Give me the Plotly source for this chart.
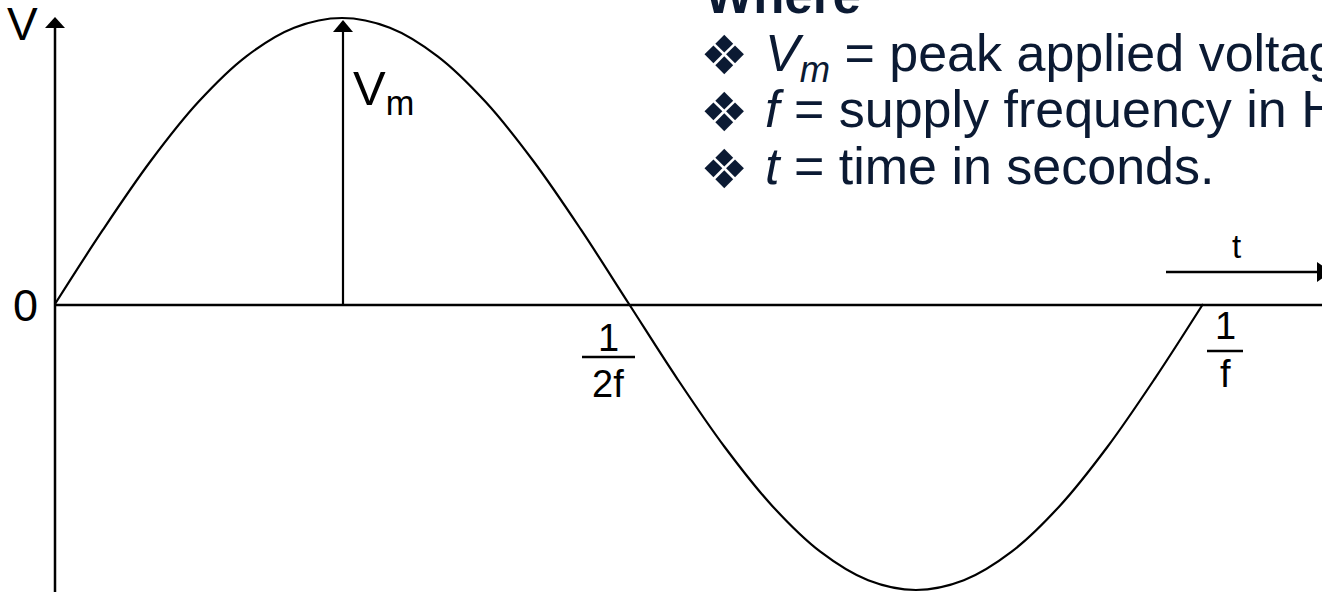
import plotly.graph_objects as go

# ---- data (one period of the waveform) ----
t_period = [i / 24 for i in range(25)]          # time as fraction of 1/f
v_norm = [0.0, 0.259, 0.5, 0.707, 0.866, 0.966, 1.0, 0.966, 0.866, 0.707, 0.5, 0.259,
          0.0, -0.259, -0.5, -0.707, -0.866, -0.966, -1.0, -0.966, -0.866, -0.707, -0.5, -0.259, 0.0]
tick_num = ["1", "1"]
tick_den = ["2f", "f"]
bullet_lines = [
    "<i>V<sub>m</sub></i> = peak applied voltage",
    "<i>f</i> = supply frequency in Hz",
    "<i>t</i> = time in seconds.",
]

W, H = 1322, 592
X0, PER = 55, 1148       # pixel of t=0, pixels per period
Y0, AMP = 304, 286       # pixel of v=0, pixels per unit

def px(x):
    return x / W

def py(y):
    return 1 - y / H

x_range = [-X0 / PER, (W - X0) / PER]
y_range = [-(H - Y0) / AMP, Y0 / AMP]

fig = go.Figure()
fig.add_trace(go.Scatter(x=t_period, y=v_norm, mode="lines", line=dict(color="black", width=2.2, shape="spline"),
                         hoverinfo="skip", showlegend=False))

LBL = "Liberation Sans Narrow, Arial Narrow, Arial, sans-serif"
TXT = "Arial, Liberation Sans, sans-serif"
NAVY = "#0b1a33"

shapes = [
    dict(type="line", xref="paper", yref="paper", x0=px(55), x1=px(55), y0=py(26), y1=py(592),
         line=dict(color="black", width=2.5)),
    dict(type="path", xref="paper", yref="paper", xsizemode="pixel", ysizemode="pixel",
         xanchor=px(55), yanchor=py(28), path="M -10,0 L 10,0 L 0,11 Z", fillcolor="black", line=dict(width=0)),
    dict(type="line", xref="paper", yref="paper", x0=px(55), x1=1.0, y0=py(305), y1=py(305),
         line=dict(color="black", width=2.5)),
    dict(type="line", xref="paper", yref="paper", x0=px(343), x1=px(343), y0=py(305), y1=py(30),
         line=dict(color="black", width=2.2)),
    dict(type="path", xref="paper", yref="paper", xsizemode="pixel", ysizemode="pixel",
         xanchor=px(343), yanchor=py(32), path="M -10,0 L 10,0 L 0,12 Z", fillcolor="black", line=dict(width=0)),
    dict(type="line", xref="paper", yref="paper", x0=px(1166), x1=1.0, y0=py(272), y1=py(272),
         line=dict(color="black", width=2.5)),
    dict(type="path", xref="paper", yref="paper", xsizemode="pixel", ysizemode="pixel",
         xanchor=px(1317), yanchor=py(272), path="M 0,-10 L 0,10 L 14,0 Z", fillcolor="black", line=dict(width=0)),
]

annotations = [
    dict(text="V", x=px(22), y=py(24.5), font=dict(family=LBL, size=46, color="black")),
    dict(text="0", x=px(25.5), y=py(305), font=dict(family=LBL, size=45, color="black")),
    dict(text="V<sub>m</sub>", x=px(351), y=py(92), xanchor="left", font=dict(family=TXT, size=49, color="black")),
    dict(text="t", x=px(1236), y=py(246), font=dict(family=LBL, size=33, color="black")),
]

frac_pos = [(608, 582, 635, 338, 357, 384), (1225, 1207, 1243, 326, 351, 374)]
for (cx, b0, b1, ny, by, dy), num, den in zip(frac_pos, tick_num, tick_den):
    annotations.append(dict(text=num, x=px(cx), y=py(ny), font=dict(family=LBL, size=38, color="black")))
    annotations.append(dict(text=den, x=px(cx), y=py(dy), font=dict(family=LBL, size=38, color="black")))
    shapes.append(dict(type="line", xref="paper", yref="paper", x0=px(b0), x1=px(b1), y0=py(by), y1=py(by),
                       line=dict(color="black", width=2.5)))

annotations.append(dict(text="<b>Where</b>", x=px(703), y=py(-4), xanchor="left",
                        font=dict(family=TXT, size=51, color=NAVY)))
for line_txt, yc, yb in zip(bullet_lines, [56.7, 109, 166], [55.5, 112.5, 169.5]):
    annotations.append(dict(text="❖", x=px(724), y=py(yb), font=dict(family="DejaVu Sans", size=54, color=NAVY)))
    annotations.append(dict(text=line_txt, x=px(763), y=py(yc), xanchor="left",
                            font=dict(family=TXT, size=52, color=NAVY)))

for a in annotations:
    a.setdefault("xref", "paper")
    a.setdefault("yref", "paper")
    a.setdefault("showarrow", False)
    a.setdefault("yanchor", "middle")
    a.setdefault("xanchor", "center")

fig.update_layout(
    width=W, height=H, margin=dict(l=0, r=0, t=0, b=0),
    paper_bgcolor="white", plot_bgcolor="white",
    xaxis=dict(range=x_range, visible=False, fixedrange=True),
    yaxis=dict(range=y_range, visible=False, fixedrange=True),
    shapes=shapes, annotations=annotations,
)
fig.write_html("out.html", config={"displayModeBar": False},
               post_script="document.body.style.margin='0';document.body.style.overflow='hidden';")
